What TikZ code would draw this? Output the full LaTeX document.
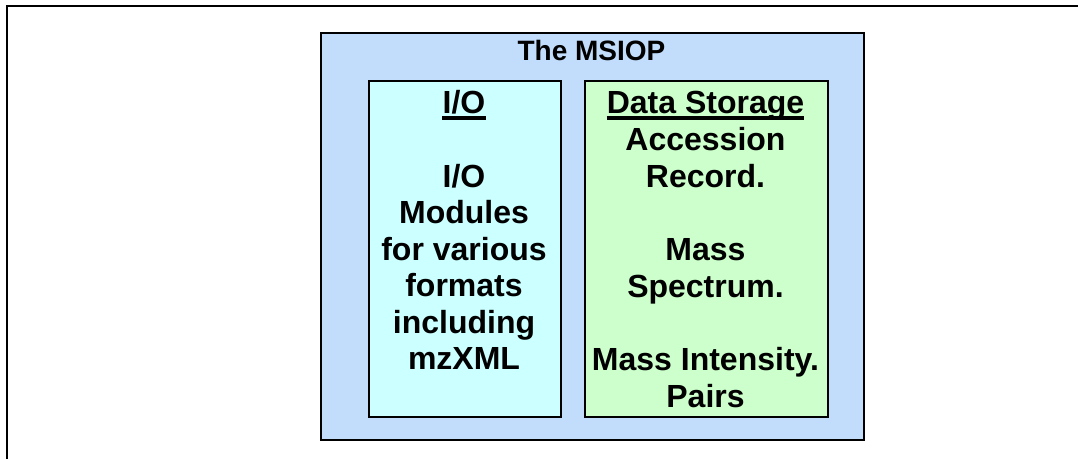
\documentclass[tikz,border=0pt]{standalone}
\usepackage{fontspec}
\setmainfont{Liberation Sans}
\definecolor{msblue}{RGB}{194,220,252}
\definecolor{iocyan}{RGB}{204,255,255}
\definecolor{dsgreen}{RGB}{204,255,204}
\begin{document}
\begin{tikzpicture}[x=1pt,y=-1pt,
  panel/.style={draw=black,line width=2pt},
  txt/.style={anchor=base,inner sep=0pt,font=\bfseries\fontsize{32}{37}\selectfont},
  ttl/.style={anchor=base,inner sep=0pt,font=\bfseries\fontsize{28}{33}\selectfont},
  uline/.style={line width=3.5pt}]
\useasboundingbox (0,0) rectangle (1078,459);
% page frame (top and left edges only)
\draw[line width=2.5pt] (7,459) -- (7,6) -- (1078,6);
% panels
\node[panel,fill=msblue,minimum width=543pt,minimum height=407pt,anchor=north west] (msiop) at (320,32) {};
\node[panel,fill=iocyan,minimum width=192pt,minimum height=336pt,anchor=north west] (io) at (368,80) {};
\node[panel,fill=dsgreen,minimum width=243pt,minimum height=336pt,anchor=north west] (ds) at (584,80) {};
% title
\node[ttl] (title) at (591.5,60) {The MSIOP};
% I/O column
\node[txt] (ioh) at (464,113) {I/O};
\draw[uline] ([yshift=-5pt]ioh.base west) -- ([yshift=-5pt]ioh.base east);
\node[txt] (io1) at (464,187) {I/O};
\node[txt] (io2) at (464,223) {Modules};
\node[txt] (io3) at (464,260) {for various};
\node[txt] (io4) at (464,296) {formats};
\node[txt] (io5) at (464,333) {including};
\node[txt] (io6) at (464,369) {mzXML};
% Data Storage column
\node[txt] (dsh) at (705.5,113) {Data Storage};
\draw[uline] ([yshift=-5pt]dsh.base west) -- ([yshift=-5pt]dsh.base east);
\node[txt] (ds1) at (705.5,150) {Accession};
\node[txt] (ds2) at (705.5,187) {Record.};
\node[txt] (ds3) at (705.5,260) {Mass};
\node[txt] (ds4) at (705.5,297) {Spectrum.};
\node[txt] (ds5) at (705.5,370) {Mass Intensity.};
\node[txt] (ds6) at (705.5,407) {Pairs};
\end{tikzpicture}
\end{document}
